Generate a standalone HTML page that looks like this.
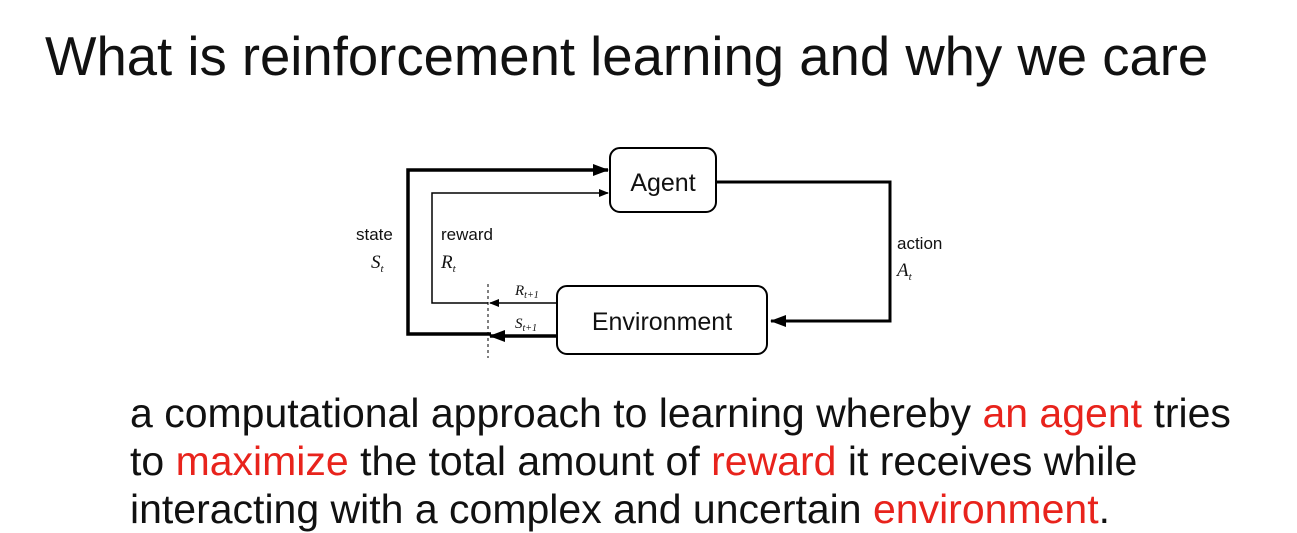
<!DOCTYPE html>
<html><head><style>
body{margin:0;width:1297px;height:531px;background:#fff;overflow:hidden;font-family:"Liberation Sans",sans-serif;position:relative}
.t{position:absolute;left:45px;top:25px;font-size:54.5px;color:#111;white-space:nowrap}
.b{position:absolute;left:130px;top:389px;font-size:41px;line-height:48px;color:#111;white-space:nowrap}
.r{color:#e8231c}
</style></head><body>
<div class="t">What is reinforcement learning and why we care</div>
<svg width="1297" height="531" style="position:absolute;left:0;top:0">
<defs>
<marker id="a" markerWidth="10" markerHeight="8" refX="9" refY="4" orient="auto" markerUnits="userSpaceOnUse"><path d="M0,0L10,4L0,8z" fill="#000"/></marker>
<marker id="b" markerWidth="16" markerHeight="12" refX="15" refY="6" orient="auto" markerUnits="userSpaceOnUse"><path d="M0,0L16,6L0,12z" fill="#000"/></marker>
</defs>
<g fill="none" stroke="#000">
<rect x="610" y="148" width="106" height="64" rx="10" stroke-width="2"/>
<rect x="557" y="286" width="210" height="68" rx="10" stroke-width="2"/>
<polyline points="491,334 408,334 408,170 608,170" stroke-width="3.5" marker-end="url(#b)"/>
<polyline points="488,303 432,303 432,193 608,193" stroke-width="1.5" marker-end="url(#a)"/>
<polyline points="716,182 890,182 890,321 771,321" stroke-width="3" marker-end="url(#b)"/>
<line x1="557" y1="303" x2="490" y2="303" stroke-width="1.5" marker-end="url(#a)"/>
<line x1="557" y1="336" x2="490" y2="336" stroke-width="3.5" marker-end="url(#b)"/>
<line x1="488" y1="284" x2="488" y2="358" stroke-width="1" stroke-dasharray="3,3"/>
</g>
<g font-family="Liberation Sans,sans-serif" fill="#111">
<text x="663" y="191" font-size="25" text-anchor="middle">Agent</text>
<text x="662" y="330" font-size="25" text-anchor="middle">Environment</text>
<text x="356" y="240" font-size="17">state</text>
<text x="441" y="240" font-size="17">reward</text>
<text x="897" y="249" font-size="17">action</text>
</g>
<g font-family="Liberation Serif,serif" font-style="italic" fill="#111">
<text x="371" y="268" font-size="19">S<tspan font-size="11" dy="4">t</tspan></text>
<text x="441" y="268" font-size="19">R<tspan font-size="11" dy="4">t</tspan></text>
<text x="897" y="276" font-size="19">A<tspan font-size="11" dy="4">t</tspan></text>
<text x="515" y="295" font-size="15">R<tspan font-size="10" dy="3">t+1</tspan></text>
<text x="515" y="328" font-size="15">S<tspan font-size="10" dy="3">t+1</tspan></text>
</g>
</svg>
<div class="b">a computational approach to learning whereby <span class="r">an agent</span> tries<br>to <span class="r">maximize</span> the total amount of <span class="r">reward</span> it receives while<br>interacting with a complex and uncertain <span class="r">environment</span>.</div>
</body></html>
